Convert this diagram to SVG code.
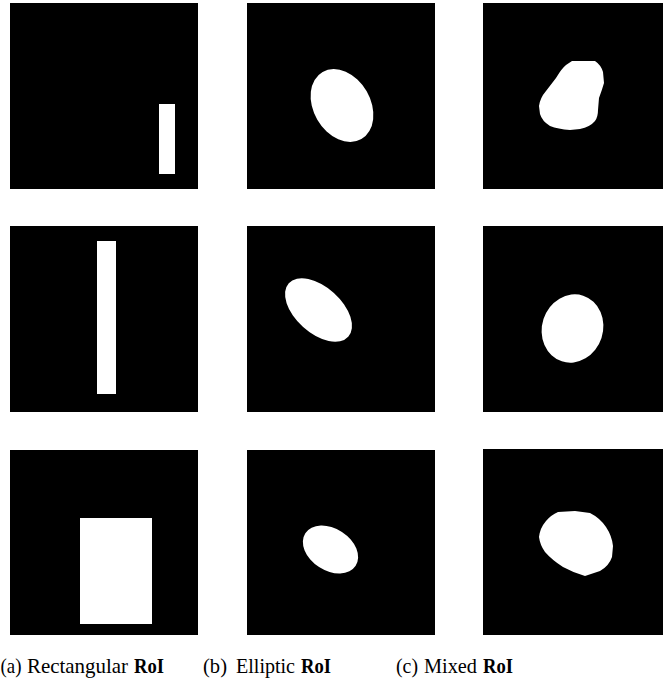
<svg xmlns="http://www.w3.org/2000/svg" width="663" height="695" viewBox="0 0 663 695">
<style>
.bg{fill:#000}
.roi{fill:#fff}
.t{font-family:"Liberation Serif","Times New Roman",serif;font-size:21.5px;fill:#000}
.b{font-weight:bold}
</style>
<rect width="663" height="695" fill="#fff"/>
<g id="a1"><rect class="bg" x="10" y="3" width="188" height="186"/><rect class="roi" x="159" y="104" width="16" height="70"/></g>
<g id="a2"><rect class="bg" x="10" y="226" width="188" height="186"/><rect class="roi" x="97" y="241" width="19" height="153"/></g>
<g id="a3"><rect class="bg" x="10" y="450" width="188" height="185"/><rect class="roi" x="80" y="518" width="72" height="106"/></g>
<g id="b1"><rect class="bg" x="247" y="3" width="188" height="186"/><ellipse class="roi" cx="342" cy="105.5" rx="28.5" ry="38.8" transform="rotate(-30 342 105.5)"/></g>
<g id="b2"><rect class="bg" x="247" y="226" width="188" height="186"/><ellipse class="roi" cx="318.5" cy="310" rx="40" ry="23" transform="rotate(42 318.5 310)"/></g>
<g id="b3"><rect class="bg" x="247" y="450" width="188" height="185"/><ellipse class="roi" cx="330.5" cy="549.5" rx="30" ry="21" transform="rotate(33 330.5 549.5)"/></g>
<g id="c1"><rect class="bg" x="483" y="3" width="188" height="186"/><path class="roi" d="M572,61 L595,61 Q601,65 603,72 L604,83 Q602,90 599,98 L598,110 Q598,117 595,121 Q590,127 580,129 L570,130 Q558,129 550,126 Q542,121 540,114 L539,106 Q540,98 546,91 L556,78 Q562,68 566,65 Z"/></g>
<g id="c2"><rect class="bg" x="483" y="226" width="188" height="186"/><ellipse class="roi" cx="572.5" cy="328.5" rx="30.5" ry="34.5" transform="rotate(18 572.5 328.5)"/></g>
<g id="c3"><rect class="bg" x="483" y="449" width="188" height="186"/><path class="roi" d="M558,512 L575,511 L590,513 Q600,518 606,527 Q612,536 613,546 L612,557 Q609,566 600,571 L585,576 Q574,573 563,567 Q552,560 545,552 Q540,545 539,537 Q540,528 546,521 Q551,515 558,512 Z"/></g>
<g id="labels">
<text class="t" x="0.5" y="673" textLength="21" lengthAdjust="spacingAndGlyphs">(a)</text>
<text class="t" x="27" y="673" textLength="101" lengthAdjust="spacingAndGlyphs">Rectangular</text>
<text class="t b" x="134" y="673" textLength="30" lengthAdjust="spacingAndGlyphs">RoI</text>
<text class="t" x="203" y="673" textLength="24" lengthAdjust="spacingAndGlyphs">(b)</text>
<text class="t" x="236" y="673" textLength="59" lengthAdjust="spacingAndGlyphs">Elliptic</text>
<text class="t b" x="301" y="673" textLength="30" lengthAdjust="spacingAndGlyphs">RoI</text>
<text class="t" x="396" y="673" textLength="22" lengthAdjust="spacingAndGlyphs">(c)</text>
<text class="t" x="424" y="673" textLength="53" lengthAdjust="spacingAndGlyphs">Mixed</text>
<text class="t b" x="483" y="673" textLength="30" lengthAdjust="spacingAndGlyphs">RoI</text>
</g>
</svg>
